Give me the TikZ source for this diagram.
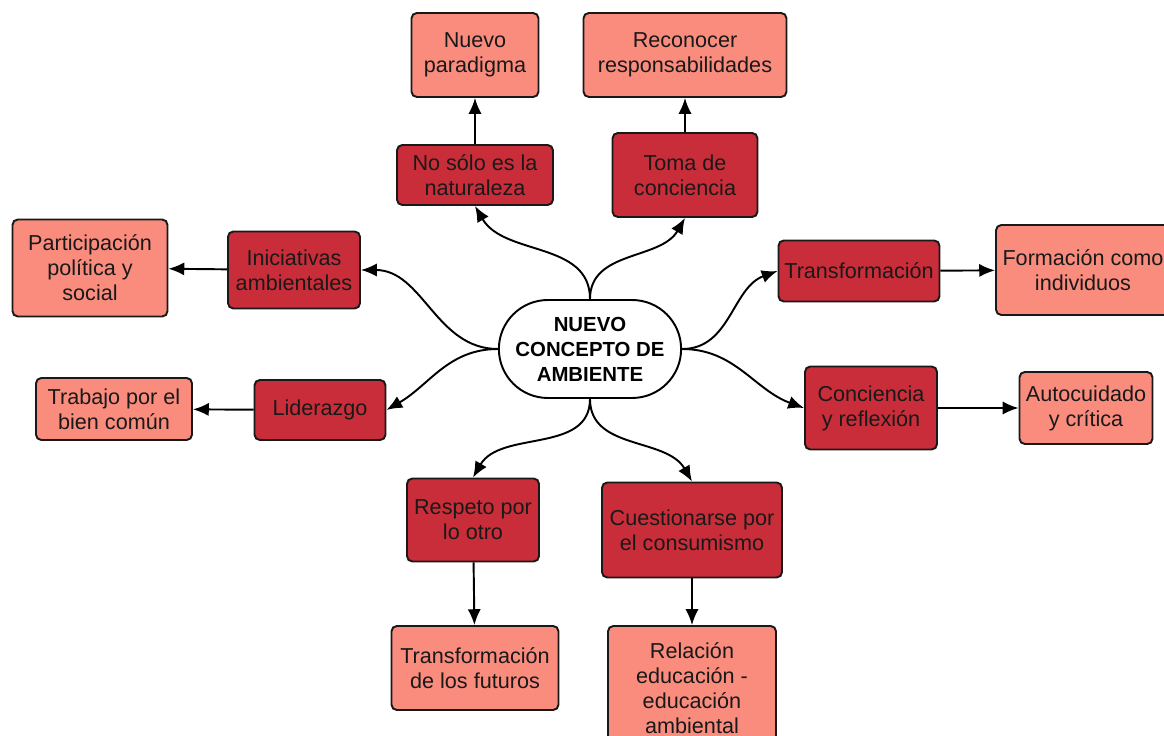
\documentclass[tikz,border=0pt]{standalone}
\usepackage{fontspec}
\setmainfont{Liberation Sans}
\usetikzlibrary{arrows.meta,shapes.misc}
\definecolor{topicred}{RGB}{201,45,57}
\definecolor{ideasalmon}{RGB}{250,140,126}
\begin{document}
\begin{tikzpicture}[x=0.02cm, y=-0.02cm]
        % Define styles
        \tikzstyle{topic}=[rectangle, draw=black!90, line width=1.1pt, rounded corners=3pt, fill=topicred, align=center, text=black!90, font=\fontsize{12.3}{14.2}\selectfont]
        \tikzstyle{idea}=[topic, fill=ideasalmon]
        \tikzstyle{arrow}=[-{Latex[length=9pt,width=7.5pt]}, line width=1.1pt]

        \useasboundingbox (0,0) rectangle (1164,736);

        % Centre
        \node[draw, line width=1.1pt, rounded rectangle, fill=white, minimum width=3.88cm, minimum height=1.96cm, align=center, font=\bfseries\fontsize{11.6}{14.2}\selectfont] (core) at (590,349) {NUEVO\\CONCEPTO DE\\AMBIENTE};

        % Top branches
        \node[topic, minimum width=3.12cm, minimum height=1.2cm] (nosolo) at (475,175) {No sólo es la\\naturaleza};
        \node[idea, minimum width=2.54cm, minimum height=1.68cm] (paradigma) at (475,55) {Nuevo\\paradigma};
        \node[topic, minimum width=2.9cm, minimum height=1.68cm] (toma) at (685,175) {Toma de\\conciencia};
        \node[idea, minimum width=4.06cm, minimum height=1.68cm] (reconocer) at (685,55) {Reconocer\\responsabilidades};

        % Left branches
        \node[topic, minimum width=2.64cm, minimum height=1.54cm] (iniciativas) at (294,270) {Iniciativas\\ambientales};
        \node[idea, minimum width=3.1cm, minimum height=1.94cm] (participacion) at (90,268) {Participación\\política y\\social};
        \node[topic, minimum width=2.62cm, minimum height=1.2cm] (liderazgo) at (320,410) {Liderazgo};
        \node[idea, minimum width=3.12cm, minimum height=1.24cm] (trabajo) at (114,409) {Trabajo por el\\bien común};

        % Right branches
        \node[topic, minimum width=3.12cm, minimum height=1.22cm] (transformacion) at (859,271) {Transformación};
        \node[idea, minimum width=3.48cm, minimum height=1.8cm] (formacion) at (1083,270) {Formación como\\individuos};
        \node[topic, minimum width=2.64cm, minimum height=1.66cm] (conciencia) at (871,408) {Conciencia\\y reflexión};
        \node[idea, minimum width=2.66cm, minimum height=1.44cm] (autocuidado) at (1086,408) {Autocuidado\\y crítica};

        % Bottom branches
        \node[topic, minimum width=2.64cm, minimum height=1.66cm] (respeto) at (473,520) {Respeto por\\lo otro};
        \node[idea, minimum width=3.34cm, minimum height=1.68cm] (futuros) at (475,668) {Transformación\\de los futuros};
        \node[topic, minimum width=3.6cm, minimum height=1.9cm] (consumismo) at (692,530) {Cuestionarse por\\el consumismo};
        \node[idea, minimum width=3.36cm, minimum height=2.48cm] (relacion) at (692,688) {Relación\\educación -\\educación\\ambiental};

        % Arrows from the centre
        \draw[arrow] (core.north) to[out=90, in=-60] (nosolo.south);
        \draw[arrow] (core.north) to[out=90, in=-120] (toma.south);
        \draw[arrow] (core.west) to[out=180, in=0] (iniciativas.east);
        \draw[arrow] (core.west) to[out=180, in=30] (liderazgo.east);
        \draw[arrow] (core.east) to[out=0, in=200] (transformacion.west);
        \draw[arrow] (core.east) to[out=0, in=160] (conciencia.west);
        \draw[arrow] (core.south) to[out=-90, in=60] (respeto.north);
        \draw[arrow] (core.south) to[out=-90, in=120] (consumismo.north);

        % Arrows to the outer ideas
        \draw[arrow] (nosolo) -- (paradigma);
        \draw[arrow] (toma) -- (reconocer);
        \draw[arrow] (iniciativas) -- (participacion);
        \draw[arrow] (liderazgo) -- (trabajo);
        \draw[arrow] (transformacion) -- (formacion);
        \draw[arrow] (conciencia) -- (autocuidado);
        \draw[arrow] (respeto) -- (futuros);
        \draw[arrow] (consumismo) -- (relacion);
\end{tikzpicture}
\end{document}
